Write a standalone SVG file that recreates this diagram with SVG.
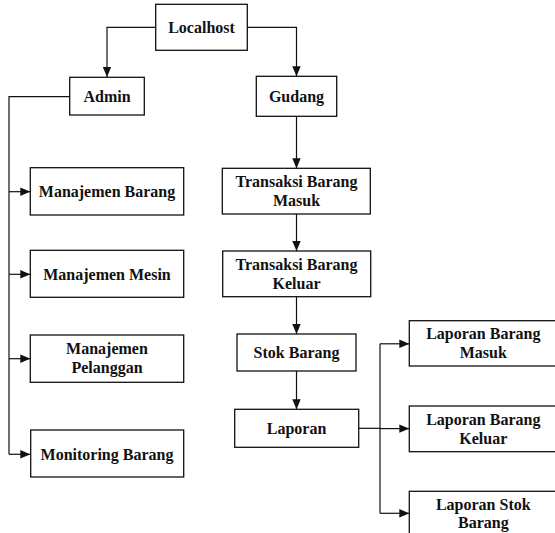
<svg xmlns="http://www.w3.org/2000/svg" width="555" height="533" viewBox="0 0 555 533">
<style>
.box{fill:#fff;stroke:#111;stroke-width:1.3}
.t{font-family:"Liberation Serif","Times New Roman",serif;font-weight:bold;font-size:16px;text-anchor:middle;fill:#111}
.c{fill:none;stroke:#111;stroke-width:1.2}
</style>
<defs>
<marker id="ah" markerUnits="userSpaceOnUse" markerWidth="10" markerHeight="10" viewBox="0 0 10 10" refX="10" refY="5" orient="auto">
<path d="M0,0.8 L10,5 L0,9.2 Z" fill="#111"/>
</marker>
</defs>
<rect width="555" height="533" fill="#fff"/>
<g id="connectors">
<path class="c" d="M155.7,27.3 H107 V77" marker-end="url(#ah)"/>
<path class="c" d="M247.3,27.3 H296.5 V76.3" marker-end="url(#ah)"/>
<path class="c" d="M69.7,96.7 H9 V454.3"/>
<path class="c" d="M9,191.7 H30.3" marker-end="url(#ah)"/>
<path class="c" d="M9,274.3 H30.3" marker-end="url(#ah)"/>
<path class="c" d="M9,358.7 H30.3" marker-end="url(#ah)"/>
<path class="c" d="M9,454.3 H30.3" marker-end="url(#ah)"/>
<path class="c" d="M296.5,116.3 V168.3" marker-end="url(#ah)"/>
<path class="c" d="M296.5,214 V251" marker-end="url(#ah)"/>
<path class="c" d="M296.5,296.7 V334" marker-end="url(#ah)"/>
<path class="c" d="M296.5,371 V409.3" marker-end="url(#ah)"/>
<path class="c" d="M358.7,428.3 H380"/>
<path class="c" d="M380,343.8 V513.3"/>
<path class="c" d="M380,343.8 H409.3" marker-end="url(#ah)"/>
<path class="c" d="M380,428.6 H409.3" marker-end="url(#ah)"/>
<path class="c" d="M380,513.3 H409.3" marker-end="url(#ah)"/>
</g>
<g id="localhost"><rect class="box" x="155.7" y="4.3" width="91.6" height="46"/><text class="t" x="201.5" y="32.5">Localhost</text></g>
<g id="admin"><rect class="box" x="69.7" y="77.3" width="74.6" height="37.7"/><text class="t" x="107" y="101.5">Admin</text></g>
<g id="gudang"><rect class="box" x="256.3" y="76.3" width="80.4" height="40"/><text class="t" x="296.5" y="101.8">Gudang</text></g>
<g id="manajemen-barang"><rect class="box" x="30.3" y="167.7" width="153.4" height="47.3"/><text class="t" x="107" y="196.9">Manajemen Barang</text></g>
<g id="manajemen-mesin"><rect class="box" x="30.3" y="250.3" width="153.4" height="47"/><text class="t" x="107" y="279.5">Manajemen Mesin</text></g>
<g id="manajemen-pelanggan"><rect class="box" x="30.3" y="335" width="153.4" height="47.3"/><text class="t" x="107" y="354.3">Manajemen</text><text class="t" x="107" y="373.3">Pelanggan</text></g>
<g id="monitoring-barang"><rect class="box" x="30.7" y="430" width="153" height="47"/><text class="t" x="107" y="459.5">Monitoring Barang</text></g>
<g id="transaksi-masuk"><rect class="box" x="222.3" y="168.3" width="148" height="45.7"/><text class="t" x="296.5" y="187.3">Transaksi Barang</text><text class="t" x="296.5" y="205.7">Masuk</text></g>
<g id="transaksi-keluar"><rect class="box" x="222.7" y="251" width="148" height="45.7"/><text class="t" x="296.5" y="270">Transaksi Barang</text><text class="t" x="296.5" y="288.5">Keluar</text></g>
<g id="stok-barang"><rect class="box" x="237" y="334" width="119" height="37"/><text class="t" x="296.5" y="357.7">Stok Barang</text></g>
<g id="laporan"><rect class="box" x="234.7" y="409.3" width="124" height="38"/><text class="t" x="296.5" y="433.5">Laporan</text></g>
<g id="laporan-barang-masuk"><rect class="box" x="409.3" y="320.7" width="148" height="45.3"/><text class="t" x="483.3" y="339.3">Laporan Barang</text><text class="t" x="483.3" y="358.3">Masuk</text></g>
<g id="laporan-barang-keluar"><rect class="box" x="409.3" y="406" width="148" height="45.7"/><text class="t" x="483.3" y="424.8">Laporan Barang</text><text class="t" x="483.3" y="443.5">Keluar</text></g>
<g id="laporan-stok-barang"><rect class="box" x="409.3" y="491.3" width="148" height="46"/><text class="t" x="483.3" y="509.5">Laporan Stok</text><text class="t" x="483.3" y="528.3">Barang</text></g>
</svg>
